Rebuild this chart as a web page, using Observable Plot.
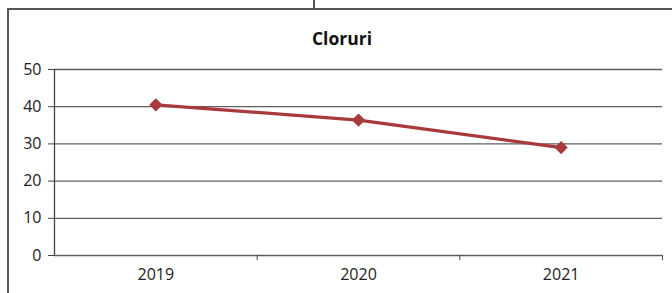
<!DOCTYPE html>
<html>
<head>
<meta charset="utf-8">
<script src="https://cdn.jsdelivr.net/npm/d3@7"></script>
<script src="https://cdn.jsdelivr.net/npm/@observablehq/plot@0.6"></script>
<style>
  html, body { margin: 0; padding: 0; background: #fff; }
  #wrap { position: relative; width: 672px; height: 293px; overflow: hidden; background: #fff; }
  #title { position: absolute; left: 12px; width: 660px; top: 26px; text-align: center;
           font-family: "Open Sans", "Liberation Sans", sans-serif; font-weight: 700; font-size: 17.5px; color: #111; }
  .bl { position: absolute; background: #555; }
  #chart { position: absolute; left: 0; top: 0; }
</style>
</head>
<body>
<div id="wrap">
  <div class="bl" style="left:7px; top:8px; width:665px; height:1.5px;"></div>
  <div class="bl" style="left:7px; top:8px; width:1.5px; height:285px;"></div>
  <div class="bl" style="left:313px; top:0px; width:1.5px; height:9px;"></div>
  <div id="title">Cloruri</div>
  <div id="chart"></div>
</div>
<script>
const years = [2019, 2020, 2021];
const values = [40.5, 36.4, 29.0];
const yTicks = [0, 10, 20, 30, 40, 50];
const bounds = [2019.5, 2020.5, 2021.5];

const data = years.map((y, i) => ({year: y, value: values[i]}));
const font = '"Open Sans", "Liberation Sans", sans-serif';

const chart = Plot.plot({
  width: 672,
  height: 293,
  marginLeft: 54,
  marginRight: 10,
  marginTop: 69,
  marginBottom: 38,
  style: {fontFamily: font, fontSize: "16px", color: "#222", background: "transparent", overflow: "visible"},
  x: {domain: [2018.5, 2021.5]},
  y: {domain: [0, 50]},
  marks: [
    Plot.gridY(yTicks, {stroke: "#444", strokeOpacity: 0.85, strokeWidth: 1.3}),
    Plot.ruleX([2018.5], {y1: 0, y2: 50, stroke: "#444", strokeWidth: 1.3}),
    Plot.axisY({ticks: yTicks, tickSize: 6, tickPadding: 7, label: null, fontSize: 16, stroke: "#444"}),
    Plot.axisX({ticks: bounds, tickSize: 5, tickFormat: () => "", label: null, stroke: "#444"}),
    Plot.axisX({ticks: years, tickSize: 0, tickPadding: 13, tickFormat: d => String(d), label: null, fontSize: 16}),
    Plot.line(data, {x: "year", y: "value", stroke: "#a83a3c", strokeWidth: 3.2}),
    Plot.dot(data, {x: "year", y: "value", symbol: "diamond2", r: 5, fill: "#a83a3c", stroke: "#a83a3c"})
  ]
});
document.getElementById("chart").appendChild(chart);
</script>
</body>
</html>
